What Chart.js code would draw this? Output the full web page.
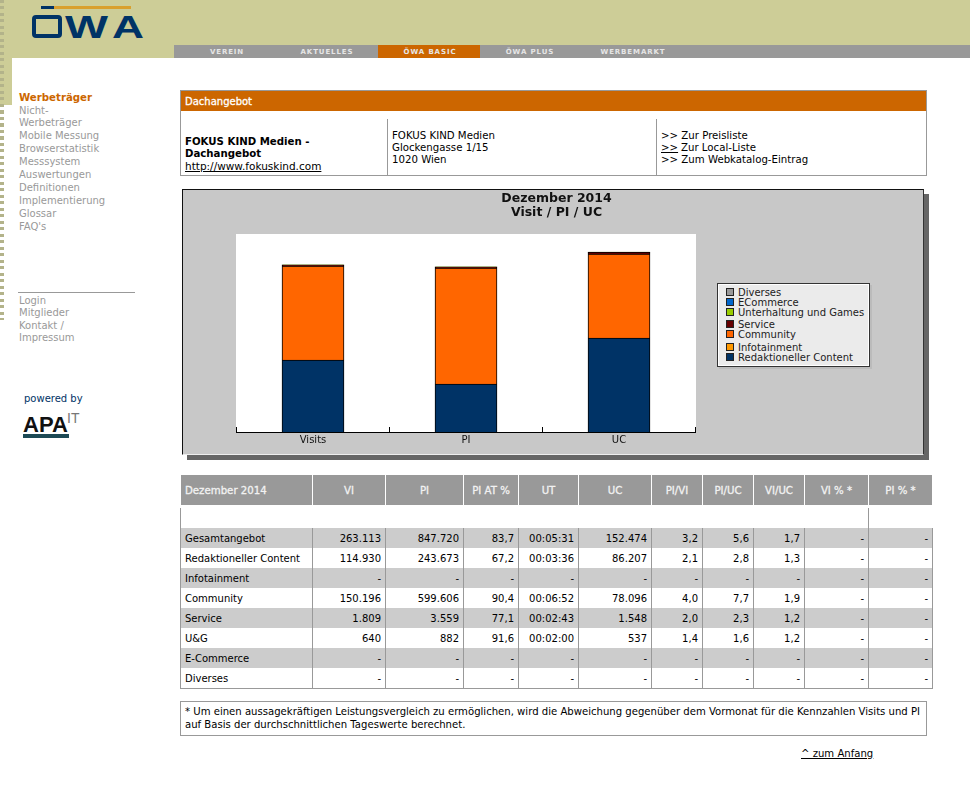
<!DOCTYPE html>
<html lang="de">
<head>
<meta charset="utf-8">
<title>Dachangebot</title>
<script src="https://cdn.jsdelivr.net/npm/chart.js@4/dist/chart.umd.js"></script>
<style>
  html, body { margin: 0; background: #fff; }
  body { position: relative; width: 970px; height: 790px; overflow: hidden; font: 10px/12px "DejaVu Sans", sans-serif; color: #000; }
  .a { position: absolute; white-space: nowrap; }
  .u { text-decoration: underline; }
  #wrap { position: absolute; left: 183px; top: 190px; width: 741px; height: 265px; }
  #legend div { position: absolute; left: 8px; height: 10px; line-height: 10px; color: #222; }
  #legend i { display: inline-block; width: 6px; height: 6px; border: 1px solid #222; margin-right: 4px; }
</style>
</head>
<body>
<div id="page"></div>
<div id="wrap"><canvas id="chart" width="741" height="265"></canvas></div>
<script>
const categories = ['Visits', 'PI', 'UC'];
const seriesNames = ['Redaktioneller Content', 'Infotainment', 'Community', 'Service', 'Unterhaltung und Games', 'ECommerce', 'Diverses'];
const seriesColors = ['#003366', '#ff9900', '#ff6600', '#660000', '#99cc00', '#0066cc', '#999999'];
// heights, the axis has no labels so 0-99 is just the plot height
const redaktionell = [36, 24, 47];
const infotainment = [0, 0, 0];
const community = [47, 58, 42];
const service = [0.5, 0.5, 0.8];
const unterhaltung = [0.1, 0.1, 0.2];
const ecommerce = [0, 0, 0];
const diverses = [0, 0, 0];
const seriesValues = [redaktionell, infotainment, community, service, unterhaltung, ecommerce, diverses];

const tableHeader = ['Dezember 2014', 'VI', 'PI', 'PI AT %', 'UT', 'UC', 'PI/VI', 'PI/UC', 'VI/UC', 'VI % *', 'PI % *'];
const tableRows = [
  ['Gesamtangebot', '263.113', '847.720', '83,7', '00:05:31', '152.474', '3,2', '5,6', '1,7', '-', '-'],
  ['Redaktioneller Content', '114.930', '243.673', '67,2', '00:03:36', '86.207', '2,1', '2,8', '1,3', '-', '-'],
  ['Infotainment', '-', '-', '-', '-', '-', '-', '-', '-', '-', '-'],
  ['Community', '150.196', '599.606', '90,4', '00:06:52', '78.096', '4,0', '7,7', '1,9', '-', '-'],
  ['Service', '1.809', '3.559', '77,1', '00:02:43', '1.548', '2,0', '2,3', '1,2', '-', '-'],
  ['U&G', '640', '882', '91,6', '00:02:00', '537', '1,4', '1,6', '1,2', '-', '-'],
  ['E-Commerce', '-', '-', '-', '-', '-', '-', '-', '-', '-', '-'],
  ['Diverses', '-', '-', '-', '-', '-', '-', '-', '-', '-', '-']
];
const columnEdges = [180, 312, 385, 463, 518, 578, 651, 702, 753, 804, 868, 932];

const menuTop = [['Nicht-', 110], ['Werbeträger', 122], ['Mobile Messung', 135], ['Browserstatistik', 148], ['Messsystem', 161], ['Auswertungen', 174], ['Definitionen', 187], ['Implementierung', 200], ['Glossar', 213], ["FAQ's", 226]];
const menuBottom = [['Login', 300], ['Mitglieder', 312], ['Kontakt /', 325], ['Impressum', 337]];
const navItems = [['VEREIN', 227], ['AKTUELLES', 327], ['ÖWA BASIC', 430], ['ÖWA PLUS', 530], ['WERBEMARKT', 633]];

const page = document.getElementById('page');
function box(x, y, w, h, color, extra) {
  const d = document.createElement('div');
  d.className = 'a';
  d.style.cssText = `left:${x}px;top:${y}px;width:${w}px;height:${h}px;background:${color};` + (extra || '');
  page.appendChild(d);
  return d;
}
// y is the vertical middle of the line
function label(text, x, y, extra, cls) {
  const d = document.createElement('div');
  d.className = 'a ' + (cls || '');
  d.textContent = text;
  d.style.cssText = `left:${x}px;top:${y - 5}px;` + (extra || '');
  page.appendChild(d);
  return d;
}

// header
box(0, 0, 970, 58, '#cdcd97');
box(0, 58, 12, 47, '#cdcd97');
box(0, 0, 4, 320, 'transparent', 'background:repeating-linear-gradient(#b3b38a 0 3px, transparent 3px 6.5px);');
box(174, 45, 796, 13, '#999999');
box(378, 45, 102, 13, '#cc6600');
navItems.forEach(([t, cx]) => label(t, cx, 51, 'transform:translateX(-50%);font-size:7px;font-weight:bold;letter-spacing:.9px;color:#e6e6e6;'));
page.insertAdjacentHTML('beforeend', `<svg class="a" style="left:0;top:0" width="160" height="45">
  <rect x="41" y="6" width="13" height="3" fill="#003366"/><rect x="54" y="6" width="77" height="3" fill="#d9a02e"/>
  <rect x="34" y="17" width="26" height="19" rx="2" fill="none" stroke="#003366" stroke-width="4"/>
  <text x="65" y="38" textLength="43" lengthAdjust="spacingAndGlyphs" font-family="Liberation Sans" font-weight="bold" font-size="32" fill="#003366">W</text>
  <text x="112" y="38" textLength="32" lengthAdjust="spacingAndGlyphs" font-family="Liberation Sans" font-weight="bold" font-size="32" fill="#003366">A</text>
</svg>`);

// left menu
label('Werbeträger', 19, 97, 'font-size:10.2px;font-weight:bold;color:#cc6600;');
menuTop.forEach(([t, y]) => label(t, 19, y, 'color:#999;'));
box(18, 292, 117, 1, '#999');
menuBottom.forEach(([t, y]) => label(t, 19, y, 'color:#999;'));
label('powered by', 24, 398, 'color:#003366;');
label('APA', 23, 424, 'font:900 22px/12px "Liberation Sans";color:#111;');
box(23, 434, 46, 4, '#1d4a55');
label('IT', 67, 417, 'font:14px/12px "Liberation Sans";color:#777;');

// Dachangebot box
box(180, 90, 745, 84, '#fff', 'border:1px solid #999;');
box(181, 91, 745, 20, '#cc6600');
label('Dachangebot', 185, 101, 'color:#fff;font-size:10px;-webkit-text-stroke:.3px #fff;');
box(387, 119, 1, 56, '#999');
box(656, 119, 1, 56, '#999');
const infoFont = 'font-size:10.2px;';
label('FOKUS KIND Medien -', 185, 141, infoFont + 'font-weight:bold;');
label('Dachangebot', 185, 153, infoFont + 'font-weight:bold;');
label('http://www.fokuskind.com', 185, 165, 'font-size:10.5px;', 'u');
label('FOKUS KIND Medien', 392, 135, infoFont);
label('Glockengasse 1/15', 392, 147, infoFont);
label('1020 Wien', 392, 159, infoFont);
label('>> Zur Preisliste', 661, 135, infoFont);
label('>>', 661, 147, infoFont, 'u');
label('Zur Local-Liste', 681, 147, infoFont);
label('>> Zum Webkatalog-Eintrag', 661, 159, infoFont);

// chart panel with its shadow
box(187, 194, 742, 266, '#666');
box(182, 189, 740, 264, '#c8c8c8', 'border:1px solid #111;border-right-color:#333;border-bottom-color:#eee;');

// table
tableHeader.forEach((t, i) => {
  const x = i ? columnEdges[i] + 1 : 181, w = columnEdges[i + 1] - x;
  box(x, 475, w, 30, '#999');
  label(t, i ? x + w / 2 : x + 4, 490, 'color:#f2f2f2;font-size:10.2px;-webkit-text-stroke:.3px #f2f2f2;' + (i ? 'transform:translateX(-50%);' : ''));
});
tableRows.forEach((row, r) => {
  const y = 528 + r * 20;
  if (r % 2 === 0) box(181, y, 751, 20, '#cccccc');
  row.forEach((t, c) => {
    if (c === 0) label(t, 185, y + 10);
    else label(t, 0, y + 10, `left:auto;right:${970 - columnEdges[c + 1] + 4}px;`);
  });
});
columnEdges.forEach(x => box(x, 528, 1, 160, '#999'));
box(180, 508, 1, 20, '#999');
box(868, 508, 1, 20, '#999');
box(180, 688, 753, 1, '#999');

// footnote
box(180, 701, 745, 33, '#fff', 'border:1px solid #999;');
label('* Um einen aussagekräftigen Leistungsvergleich zu ermöglichen, wird die Abweichung gegenüber dem Vormonat für die Kennzahlen Visits und PI', 185, 711, 'font-size:10.1px;');
label('auf Basis der durchschnittlichen Tageswerte berechnet.', 185, 724, 'font-size:10.1px;');
label('^ zum Anfang', 801, 753, 'font-size:10.1px;', 'u');

// white plot background; the title is centred on the panel, not on the plot
const plotExtras = {
  id: 'plotExtras',
  afterLayout(chart) {
    chart.titleBlock.left = 0;
    chart.titleBlock.right = chart.width + 6;
  },
  beforeDraw(chart) {
    const { ctx, chartArea } = chart;
    ctx.fillStyle = '#fff';
    ctx.fillRect(chartArea.left - 0.5, chartArea.top, chartArea.width + 1, chartArea.height);
  }
};

new Chart(document.getElementById('chart'), {
  type: 'bar',
  data: {
    labels: categories,
    datasets: seriesNames.map((name, i) => ({
      label: name,
      data: seriesValues[i],
      backgroundColor: seriesColors[i],
      borderColor: '#000',
      borderWidth: 1
    }))
  },
  plugins: [plotExtras],
  options: {
    responsive: false,
    animation: false,
    devicePixelRatio: 1,
    layout: { padding: { left: 53.5, right: 228.5, top: 0, bottom: 0 } },
    barThickness: 62,
    plugins: {
      legend: { display: false },
      tooltip: { enabled: false },
      title: {
        display: true,
        text: ['Dezember 2014', 'Visit / PI / UC'],
        color: '#111',
        font: { family: 'DejaVu Sans', size: 12.5, weight: 'bold', lineHeight: 1.12 },
        padding: { top: 2, bottom: 14 }
      }
    },
    scales: {
      x: {
        stacked: true,
        afterFit(scale) { scale.height = 23; },
        grid: { drawOnChartArea: false, tickLength: -5, color: '#000', offset: true },
        border: { color: '#000' },
        ticks: { color: '#111', padding: 7, maxRotation: 0, font: { family: 'DejaVu Sans', size: 10 } }
      },
      y: { stacked: true, display: false, min: 0, max: 99 }
    }
  }
});

// legend keeps the uneven rows of the original
const legendRows = [['Diverses', 6], ['ECommerce', 5], ['Unterhaltung und Games', 4], ['Service', 3], ['Community', 2], ['Infotainment', 1], ['Redaktioneller Content', 0]];
const legendY = [4, 14, 24, 36, 46, 59, 69];
const legend = box(717, 283, 151, 82, '#ebebeb', 'border:1px solid #333;box-shadow:2px 2px 0 #bbb, inset 0 0 0 1px #fff;');
legend.id = 'legend';
legendRows.forEach(([t, idx], i) => {
  const row = document.createElement('div');
  row.style.top = legendY[i] + 'px';
  row.innerHTML = `<i style="background:${seriesColors[idx]}"></i>`;
  row.appendChild(document.createTextNode(t));
  legend.appendChild(row);
});
</script>
</body>
</html>
